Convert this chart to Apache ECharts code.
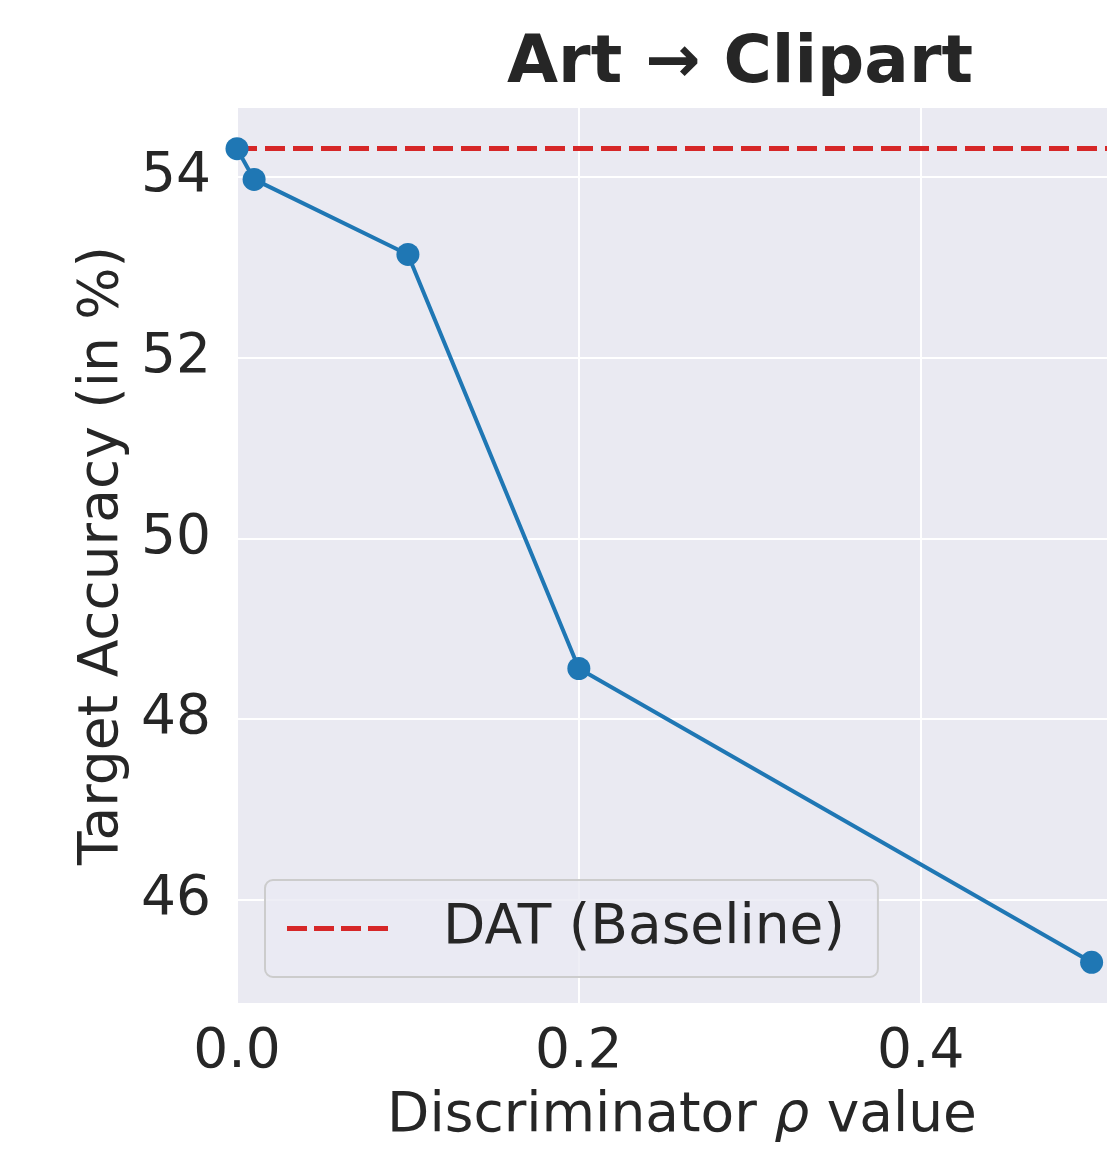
<!DOCTYPE html>
<html>
<head>
<meta charset="utf-8">
<script src="https://cdn.jsdelivr.net/npm/echarts@6/dist/echarts.min.js"></script>
<style>
  html, body { margin: 0; padding: 0; background: #ffffff; }
  #chart { width: 1107px; height: 1155px; }
</style>
</head>
<body>
<div id="chart"></div>
<script>
// ---- data ----
const rhoValues = [0, 0.01, 0.1, 0.2, 0.5];
const accuracyValues = [54.31, 53.97, 53.14, 48.56, 45.31];
const baselineValue = 54.31;
const xTickValues = [0, 0.2, 0.4];
const yTickValues = [46, 48, 50, 52, 54];
const xLimits = [0, 0.509];
const yLimits = [44.86, 54.76];

const FONT = 'DejaVu Sans';
const TXT = '#262626';
const RED = '#d62728';
const BLUE = '#1f77b4';

const chart = echarts.init(document.getElementById('chart'), null, { renderer: 'canvas' });

const option = {
  backgroundColor: '#ffffff',
  animation: false,
  title: {
    text: 'Art \u2192 Clipart',
    left: 735,
    top: 27,
    textAlign: 'center',
    textStyle: { fontFamily: FONT, fontSize: 66, fontWeight: 'bold', color: TXT }
  },
  grid: {
    left: 237, top: 108, width: 870, height: 895,
    show: true, backgroundColor: '#EAEAF2', borderWidth: 0, containLabel: false
  },
  legend: {
    data: [{
      name: 'DAT (Baseline)',
      icon: 'path://M0,0h20v5h-20z M27,0h20v5h-20z M54,0h20v5h-20z M81,0h20v5h-20z'
    }],
    left: 265, top: 880,
    orient: 'vertical',
    padding: [21, 33, 21, 22],
    itemWidth: 101, itemHeight: 5,
    itemStyle: { color: RED, borderWidth: 0 },
    backgroundColor: 'rgba(234,234,242,0.8)',
    borderColor: '#cccccc', borderWidth: 2, borderRadius: 8,
    textStyle: { fontFamily: FONT, fontSize: 55, color: TXT, padding: [0, 0, 0, 50] }
  },
  xAxis: {
    type: 'value',
    min: xLimits[0], max: xLimits[1],
    name: 'Discriminator {i|\u03c1} value',
    nameLocation: 'middle',
    nameGap: 86,
    nameTextStyle: {
      fontFamily: FONT, fontSize: 55, color: TXT, padding: [0, 0, 0, 20],
      rich: { i: { fontFamily: FONT, fontSize: 55, color: TXT, fontStyle: 'italic' } }
    },
    axisLine: { show: false },
    axisTick: { show: false, customValues: xTickValues },
    axisLabel: {
      customValues: xTickValues,
      margin: 22,
      fontFamily: FONT, fontSize: 55, color: TXT,
      formatter: v => v.toFixed(1)
    },
    splitLine: { show: true, lineStyle: { color: '#ffffff', width: 2 } }
  },
  yAxis: {
    type: 'value',
    min: yLimits[0], max: yLimits[1],
    name: 'Target Accuracy (in %)',
    nameLocation: 'middle',
    nameRotate: 90,
    nameGap: 105,
    nameTextStyle: { fontFamily: FONT, fontSize: 55, color: TXT },
    axisLine: { show: false },
    axisTick: { show: false, customValues: yTickValues },
    axisLabel: {
      customValues: yTickValues,
      margin: 26,
      fontFamily: FONT, fontSize: 55, color: TXT,
      formatter: v => String(Math.round(v))
    },
    splitLine: { show: true, lineStyle: { color: '#ffffff', width: 2 } }
  },
  series: [
    {
      name: 'DAT (Baseline)',
      type: 'line',
      data: [],
      symbol: 'none',
      z: 2,
      lineStyle: { color: RED, width: 5, type: [20, 8] },
      itemStyle: { color: RED },
      markLine: {
        silent: true,
        symbol: 'none',
        label: { show: false },
        lineStyle: { color: RED, width: 5, type: [20, 8] },
        data: [{ yAxis: baselineValue }]
      }
    },
    {
      name: 'accuracy',
      type: 'line',
      data: rhoValues.map((x, i) => [x, accuracyValues[i]]),
      symbol: 'circle',
      symbolSize: 23,
      z: 5,
      lineStyle: { color: BLUE, width: 4 },
      itemStyle: { color: BLUE }
    }
  ]
};

chart.setOption(option);
</script>
</body>
</html>
